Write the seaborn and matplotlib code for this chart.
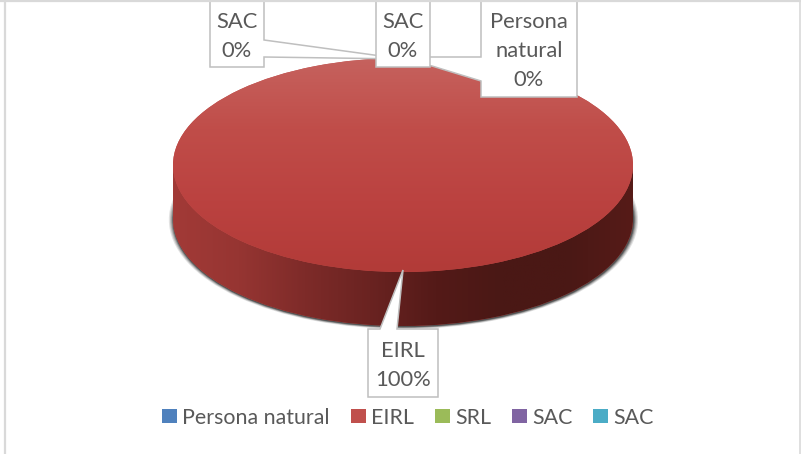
import numpy as np
import matplotlib
matplotlib.use("Agg")
import matplotlib.pyplot as plt
from matplotlib.colors import LinearSegmentedColormap
from matplotlib.patches import Polygon, Rectangle
import seaborn as sns

# datos
categorias = ["Persona natural", "EIRL", "SRL", "SAC", "SAC"]
valores = [0, 100, 0, 0, 0]
colores = ["#4f81bd", "#c0504d", "#9bbb59", "#8064a2", "#4bacc6"]

W, H = 801, 454
GRIS = "#595959"
BORDE = "#bfbfbf"
FUENTE = 15.8

sns.set_theme(style="white")
plt.rcParams["font.family"] = ["Lato", "DejaVu Sans"]

fig = plt.figure(figsize=(W / 100, H / 100), dpi=100, facecolor="white")

# ejes de la torta, elipse de 460x214 px, con margen abajo para el lateral
B = 107
prof = 54 / B
margen = 12 / B
ax = fig.add_axes([163 / W, 1 - (326 + 12) / H, 480 / W, (338 - 58) / H])
xmax = 240 / 230

# sombra
sombras = []
for r, a in zip([1.020, 1.015, 1.010, 1.006, 1.003], [0.14, 0.2, 0.28, 0.36, 0.5]):
    w, _ = ax.pie(valores, colors=["#333333"] * 5, radius=r, center=(0.002, -prof - 0.008),
                  wedgeprops={"alpha": a, "linewidth": 0}, startangle=90)
    sombras += w

# lateral con degradado horizontal
cmap_lado = LinearSegmentedColormap.from_list(
    "lado", ["#a23a37", "#963532", "#7e2b29", "#6a2321", "#541a18", "#4a1815", "#4a1815", "#561b18"])
grad_h = np.linspace(0, 1, 256).reshape(1, -1)
fondo, _ = ax.pie(valores, colors=colores, radius=1, center=(0, -prof), startangle=90,
                  wedgeprops={"linewidth": 0, "zorder": 1.5})
img1 = ax.imshow(grad_h, cmap=cmap_lado, extent=(-1, 1, -1 - prof, 0), aspect="auto", zorder=2)
img1.set_clip_path(fondo[1])
rect = Rectangle((-1, -prof), 2, prof, transform=ax.transData, fill=False, lw=0)
ax.add_patch(rect)
img2 = ax.imshow(grad_h, cmap=cmap_lado, extent=(-1, 1, -prof, 0), aspect="auto", zorder=2)
img2.set_clip_path(rect)

# cara superior con degradado vertical
cmap_cara = LinearSegmentedColormap.from_list("cara", ["#c6625e", "#c04d49", "#bb4240", "#b23b38"])
grad_v = np.linspace(0, 1, 256).reshape(-1, 1)
cara, _ = ax.pie(valores, colors=colores, radius=1, startangle=90, wedgeprops={"linewidth": 0, "zorder": 3})
img3 = ax.imshow(grad_v, cmap=cmap_cara, extent=(-1, 1, -1, 1), aspect="auto", zorder=4)
img3.set_clip_path(cara[1])

ax.set_aspect("auto")
ax.set_xlim(-xmax, xmax)
ax.set_ylim(-1 - prof - margen, 1)
ax.axis("off")
ax.patch.set_alpha(0)

# capa en pixeles para marco, etiquetas y leyenda
ov = fig.add_axes([0, 0, 1, 1], zorder=5)
ov.set_xlim(0, W)
ov.set_ylim(H, 0)
ov.axis("off")
ov.patch.set_alpha(0)

ov.plot([4.5, 4.5], [0, H], color="#d9d9d9", lw=1.6)
ov.plot([0, W], [0.8, 0.8], color="#d9d9d9", lw=1.6)
ov.plot([800, 800], [0, H], color="#d9d9d9", lw=1.2)

globos = [
    [(481, 0), (577, 0), (577, 97), (481, 97), (481, 81), (432, 66), (403, 60), (430, 57), (481, 57)],
    [(210, 0), (264, 0), (264, 40), (403, 59), (264, 57), (264, 67), (210, 67)],
    [(376, 0), (430, 0), (430, 67), (376, 67)],
    [(368, 329), (380, 329), (403, 270), (397, 329), (438, 329), (438, 397), (368, 397)],
]
for g in globos:
    ov.add_patch(Polygon(g, closed=True, facecolor="white", edgecolor=BORDE, lw=1.1, clip_on=False))

etiquetas = [
    (237, 36.5, categorias[3], valores[3]),
    (403, 36.5, categorias[4], valores[4]),
    (529, 51, "Persona\nnatural", valores[0]),
    (403, 365.5, categorias[1], valores[1]),
]
for x, y, nombre, v in etiquetas:
    ov.text(x, y, f"{nombre}\n{v}%", ha="center", va="center", color=GRIS, fontsize=FUENTE,
            linespacing=1.55)

ley = ov.legend(cara, categorias, ncols=5, loc="center", bbox_to_anchor=(408 / W, 1 - 417.5 / H),
                frameon=False, fontsize=15.4, labelcolor=GRIS, handlelength=0.7, handleheight=0.68,
                handletextpad=0.24, columnspacing=0.98, borderpad=0, borderaxespad=0)

fig.savefig("out.png", dpi=100, facecolor="white")
